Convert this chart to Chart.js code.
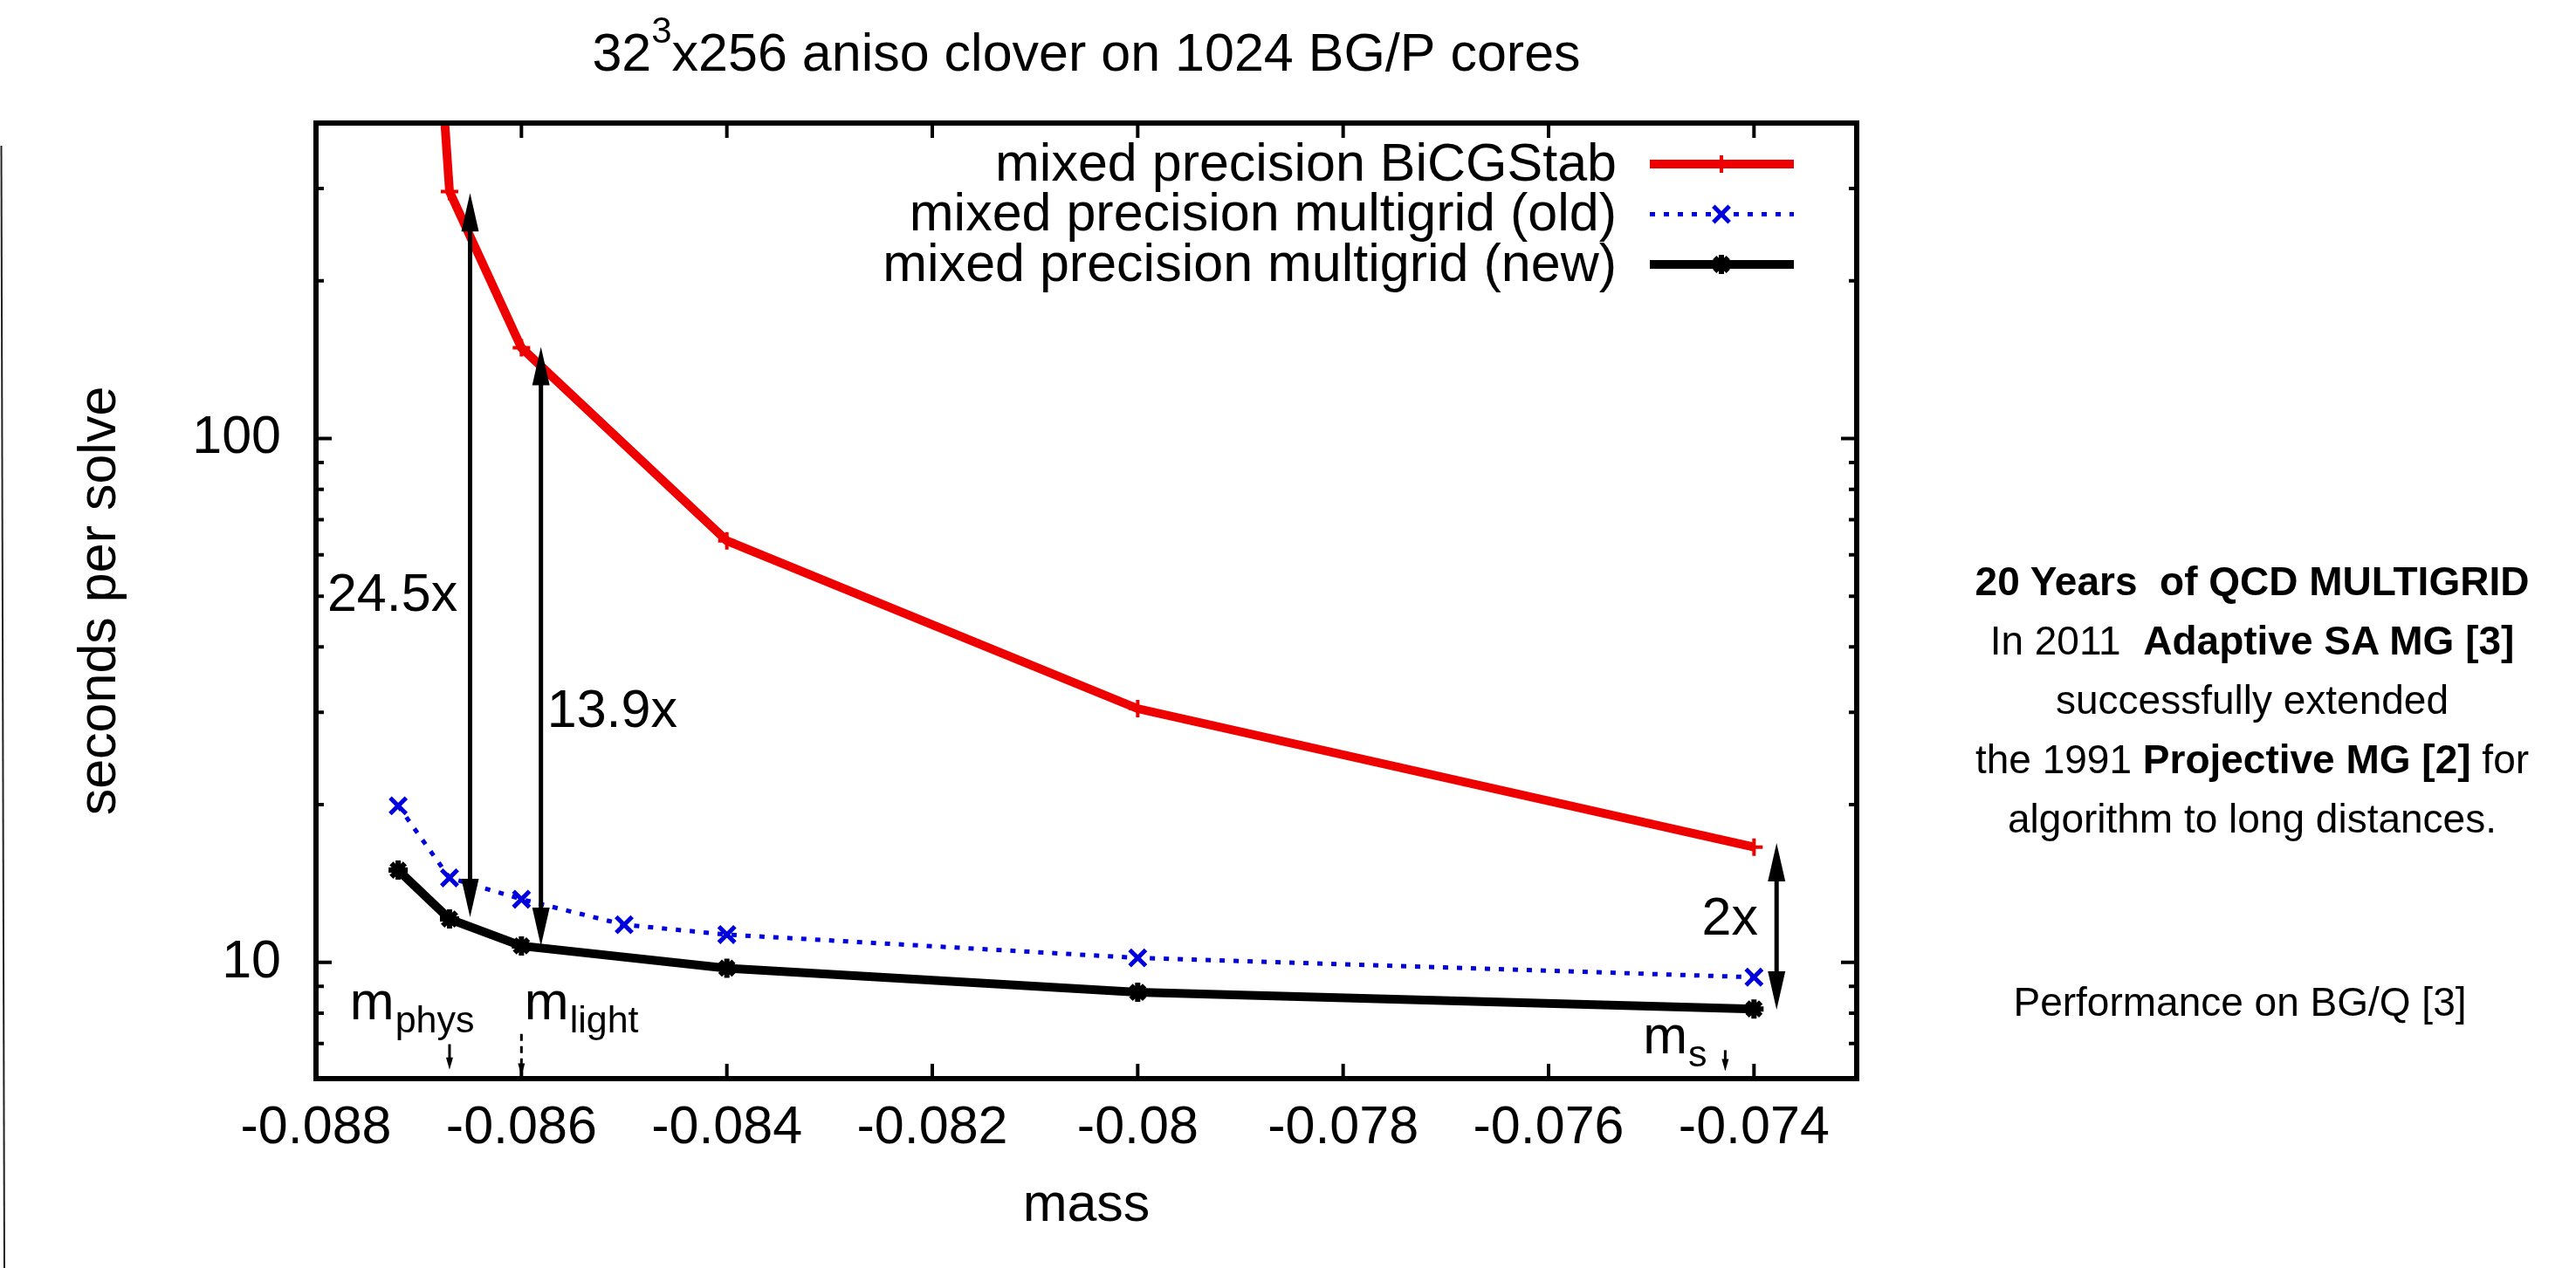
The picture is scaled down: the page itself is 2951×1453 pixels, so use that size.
<!DOCTYPE html>
<html>
<head>
<meta charset="utf-8">
<title>32^3x256 aniso clover on 1024 BG/P cores</title>
<script src="https://cdn.jsdelivr.net/npm/chart.js@4.4.1/dist/chart.umd.min.js"></script>
<style>
  html, body { margin: 0; padding: 0; background: #fff; }
  #wrap { position: relative; width: 2951px; height: 1453px; overflow: hidden; }
  #myChart { position: absolute; left: 0; top: 0; width: 2951px; height: 1453px; }
  .note { position: absolute; width: 760px; text-align: center; white-space: nowrap;
          font-family: "Liberation Sans", Arial, sans-serif; font-size: 46px; line-height: 68px; color: #000; }
  #note { left: 2200px; top: 632px; }
  #perf { left: 2186px; top: 1114px; }
</style>
</head>
<body>
<div id="wrap">
  <canvas id="myChart" width="2951" height="1453"></canvas>
  <div class="note" id="note"><b>20 Years&nbsp; of QCD MULTIGRID</b><br>In 2011&nbsp; <b>Adaptive SA MG [3]</b><br>successfully extended<br>the 1991 <b>Projective MG [2]</b> for<br>algorithm to long distances.</div>
  <div class="note" id="perf">Performance on BG/Q [3]</div>
</div>
<script>
var FONT = '"Liberation Sans", Arial, sans-serif';

// seconds per solve vs mass
var massBicg  = [-0.0872, -0.0867, -0.0860, -0.0840, -0.0800, -0.0740];
var secBicg   = [8000, 296, 149, 63.8, 30.5, 16.6];
var massMgOld = [-0.0872, -0.0867, -0.0860, -0.0850, -0.0840, -0.0800, -0.0740];
var secMgOld  = [19.9, 14.5, 13.2, 11.8, 11.3, 10.2, 9.37];
var massMgNew = [-0.0872, -0.0867, -0.0860, -0.0840, -0.0800, -0.0740];
var secMgNew  = [15.0, 12.1, 10.75, 9.75, 8.77, 8.15];

var xTicks = [-0.088, -0.086, -0.084, -0.082, -0.080, -0.078, -0.076, -0.074];
var yMajorTicks = [10, 100];
var yMinorTicks = [6, 7, 8, 9, 20, 30, 40, 50, 60, 70, 80, 90, 200, 300, 400];

// speed-up arrows (mass, seconds at both tips) and their labels
var gapMass      = [-0.0865, -0.08581, -0.07378];
var gapTop       = [294, 149.5, 16.9];
var gapBottom    = [12.2, 10.75, 8.12];
var gapText      = ['24.5x', '13.9x', '2x'];
var gapTextMass  = [-0.08789, -0.08575, -0.07396];
var gapTextSec   = [50, 30, 12.04];
var gapTextAlign = ['left', 'left', 'right'];

// quark mass markers
var markSub        = ['phys', 'light', 's'];
var markTextMass   = [-0.08767, -0.08597, -0.07508];
var markTextSec    = [7.8, 7.8, 6.7];
var markArrowMass  = [-0.0867, -0.0860, -0.07428];
var markArrowTop   = [6.98, 7.3, 6.8];
var markArrowBot   = [6.24, 6.08, 6.2];
var markDashed     = [false, true, false];

var titleMain = '32', titleSup = '3', titleRest = 'x256 aniso clover on 1024 BG/P cores';

function pts(xs, ys) {
    var out = [];
    for (var i = 0; i < xs.length; i++) out.push({x: xs[i], y: ys[i]});
    return out;
}

function arrow(ctx, x, y1, y2, head, half, both, dash) {
    // y1 top, y2 bottom, head at bottom (and top if both)
    ctx.save();
    if (dash) ctx.setLineDash(dash);
    ctx.beginPath();
    ctx.moveTo(x, both ? y1 + head * 0.5 : y1);
    ctx.lineTo(x, y2 - head * 0.5);
    ctx.stroke();
    ctx.restore();
    ctx.beginPath();
    ctx.moveTo(x, y2);
    ctx.lineTo(x - half, y2 - head);
    ctx.lineTo(x + half, y2 - head);
    ctx.closePath();
    ctx.fill();
    if (both) {
        ctx.beginPath();
        ctx.moveTo(x, y1);
        ctx.lineTo(x - half, y1 + head);
        ctx.lineTo(x + half, y1 + head);
        ctx.closePath();
        ctx.fill();
    }
}

var decor = {
    id: 'decor',
    beforeDraw: function(chart) {
        var ctx = chart.ctx;
        ctx.save();
        ctx.fillStyle = '#fff';
        ctx.fillRect(0, 0, chart.width, chart.height);
        // slide edge on the far left
        ctx.strokeStyle = '#222';
        ctx.lineWidth = 2;
        ctx.beginPath();
        ctx.moveTo(1.5, 167);
        ctx.lineTo(5, chart.height);
        ctx.stroke();
        ctx.restore();
    },
    afterDatasetsDraw: function(chart) {
        var ctx = chart.ctx, a = chart.chartArea;
        var xs = chart.scales.x, ys = chart.scales.y;
        var i;
        ctx.save();
        ctx.strokeStyle = '#000';
        ctx.fillStyle = '#000';

        // ticks, mirrored and pointing inwards
        ctx.lineWidth = 4;
        ctx.beginPath();
        xTicks.forEach(function(v) {
            var px = xs.getPixelForValue(v);
            ctx.moveTo(px, a.bottom); ctx.lineTo(px, a.bottom - 17);
            ctx.moveTo(px, a.top); ctx.lineTo(px, a.top + 17);
        });
        yMajorTicks.forEach(function(v) {
            var py = ys.getPixelForValue(v);
            ctx.moveTo(a.left, py); ctx.lineTo(a.left + 18, py);
            ctx.moveTo(a.right, py); ctx.lineTo(a.right - 18, py);
        });
        yMinorTicks.forEach(function(v) {
            var py = ys.getPixelForValue(v);
            ctx.moveTo(a.left, py); ctx.lineTo(a.left + 9, py);
            ctx.moveTo(a.right, py); ctx.lineTo(a.right - 9, py);
        });
        ctx.stroke();

        ctx.lineWidth = 6;
        ctx.strokeRect(a.left, a.top, a.right - a.left, a.bottom - a.top);

        // speed-up arrows
        ctx.lineWidth = 5;
        for (i = 0; i < gapMass.length; i++) {
            arrow(ctx, xs.getPixelForValue(gapMass[i]), ys.getPixelForValue(gapTop[i]),
                  ys.getPixelForValue(gapBottom[i]), 44, 10, true, null);
        }
        ctx.font = '61px ' + FONT;
        ctx.textBaseline = 'middle';
        for (i = 0; i < gapText.length; i++) {
            ctx.textAlign = gapTextAlign[i];
            ctx.fillText(gapText[i], xs.getPixelForValue(gapTextMass[i]), ys.getPixelForValue(gapTextSec[i]));
        }

        // m_phys, m_light, m_s
        ctx.textAlign = 'left';
        ctx.textBaseline = 'alphabetic';
        for (i = 0; i < markSub.length; i++) {
            var tx = xs.getPixelForValue(markTextMass[i]), ty = ys.getPixelForValue(markTextSec[i]);
            ctx.font = '61px ' + FONT;
            ctx.fillText('m', tx, ty);
            var w = ctx.measureText('m').width;
            ctx.font = '43px ' + FONT;
            ctx.fillText(markSub[i], tx + w + 1, ty + 15);
            ctx.lineWidth = 3;
            arrow(ctx, xs.getPixelForValue(markArrowMass[i]), ys.getPixelForValue(markArrowTop[i]),
                  ys.getPixelForValue(markArrowBot[i]), 14, 4, false, markDashed[i] ? [8, 6] : null);
        }
        ctx.restore();
    },
    afterDraw: function(chart) {
        var ctx = chart.ctx, a = chart.chartArea;
        ctx.save();
        ctx.fillStyle = '#000';
        ctx.textBaseline = 'alphabetic';
        ctx.textAlign = 'left';

        // title with superscript
        ctx.font = '61px ' + FONT;
        var w1 = ctx.measureText(titleMain).width, w3 = ctx.measureText(titleRest).width;
        ctx.font = '42px ' + FONT;
        var w2 = ctx.measureText(titleSup).width;
        var x0 = (a.left + a.right) / 2 - (w1 + w2 + w3) / 2, base = 81;
        ctx.font = '61px ' + FONT;
        ctx.fillText(titleMain, x0, base);
        ctx.fillText(titleRest, x0 + w1 + w2, base);
        ctx.font = '42px ' + FONT;
        ctx.fillText(titleSup, x0 + w1, base - 32);

        // key in the top right corner of the plot
        chart.data.datasets.forEach(function(ds, i) {
            var y = 188 + i * 57.5;
            ctx.font = '61px ' + FONT;
            ctx.textAlign = 'right';
            ctx.textBaseline = 'middle';
            ctx.fillStyle = '#000';
            ctx.fillText(ds.label, 1852, y + 2);
            ctx.save();
            ctx.strokeStyle = ds.borderColor;
            ctx.lineWidth = ds.borderWidth;
            if (ds.borderDash) ctx.setLineDash(ds.borderDash);
            ctx.beginPath();
            ctx.moveTo(1890, y);
            ctx.lineTo(2055, y);
            ctx.stroke();
            ctx.restore();
            ctx.strokeStyle = ds.borderColor;
            ctx.fillStyle = ds.borderColor;
            ctx.lineWidth = ds.pointBorderWidth;
            Chart.helpers.drawPoint(ctx, {pointStyle: ds.pointStyle, radius: ds.pointRadius,
                borderWidth: ds.pointBorderWidth, rotation: 0}, 1972, y);
        });
        ctx.restore();
    }
};

var ctx = document.getElementById('myChart').getContext('2d');
var myChart = new Chart(ctx, {
    type: 'line',
    data: {
        datasets: [
            {
                label: 'mixed precision BiCGStab',
                data: pts(massBicg, secBicg),
                borderColor: '#ee0000',
                backgroundColor: '#ee0000',
                borderWidth: 10,
                pointStyle: 'cross',
                pointRadius: 10,
                pointBorderWidth: 4,
                pointBorderColor: '#ee0000',
                clip: 0
            },
            {
                label: 'mixed precision multigrid (old)',
                data: pts(massMgOld, secMgOld),
                borderColor: '#0000dd',
                backgroundColor: '#0000dd',
                borderWidth: 5,
                borderDash: [6, 10],
                pointStyle: 'crossRot',
                pointRadius: 13,
                pointBorderWidth: 5,
                pointBorderColor: '#0000dd'
            },
            {
                label: 'mixed precision multigrid (new)',
                data: pts(massMgNew, secMgNew),
                borderColor: '#000000',
                backgroundColor: '#000000',
                borderWidth: 10,
                pointStyle: 'star',
                pointRadius: 11,
                pointBorderWidth: 6,
                pointBorderColor: '#000000'
            }
        ]
    },
    options: {
        responsive: false,
        animation: false,
        devicePixelRatio: 1,
        events: [],
        layout: { padding: { top: 141, right: 824, left: 0, bottom: 0 } },
        elements: { line: { tension: 0, fill: false } },
        plugins: {
            legend: { display: false },
            title: { display: false },
            tooltip: { enabled: false }
        },
        scales: {
            x: {
                type: 'linear',
                min: -0.088,
                max: -0.073,
                afterBuildTicks: function(s) { s.ticks = xTicks.map(function(v) { return {value: v}; }); },
                afterFit: function(s) { s.height = 217; },
                grid: { display: false, drawTicks: false },
                border: { display: false },
                ticks: {
                    padding: 21,
                    autoSkip: false,
                    maxRotation: 0,
                    color: '#000',
                    font: { family: FONT, size: 61 },
                    callback: function(v) { return String(Number(v.toFixed(3))); }
                },
                title: {
                    display: true,
                    text: 'mass',
                    color: '#000',
                    font: { family: FONT, size: 61 },
                    padding: { top: 0, bottom: 34 }
                }
            },
            y: {
                type: 'logarithmic',
                min: 6,
                max: 400,
                afterBuildTicks: function(s) {
                    s.ticks = yMinorTicks.concat(yMajorTicks).sort(function(p, q) { return p - q; })
                        .map(function(v) { return {value: v}; });
                },
                afterFit: function(s) { s.width = 362; },
                grid: { display: false, drawTicks: false },
                border: { display: false },
                ticks: {
                    padding: 40,
                    autoSkip: false,
                    color: '#000',
                    font: { family: FONT, size: 61 },
                    callback: function(v) { return yMajorTicks.indexOf(v) >= 0 ? String(v) : ''; }
                },
                title: {
                    display: true,
                    text: 'seconds per solve',
                    color: '#000',
                    font: { family: FONT, size: 61 },
                    padding: { top: 79, bottom: 0 }
                }
            }
        }
    },
    plugins: [decor]
});
</script>
</body>
</html>
